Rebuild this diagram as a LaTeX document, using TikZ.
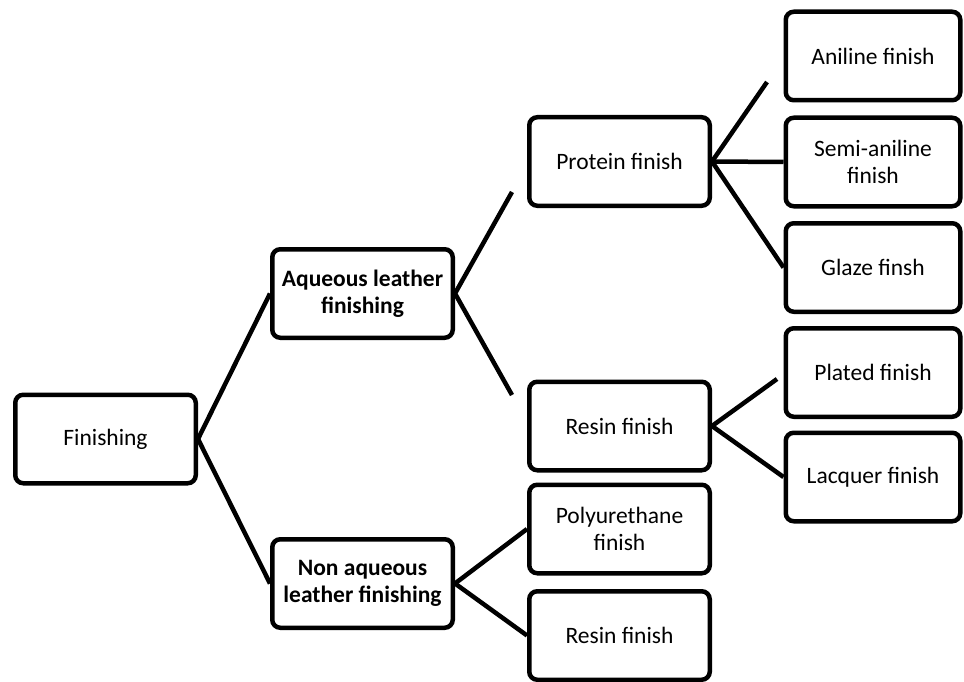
\documentclass[tikz,border=0pt]{standalone}
\usepackage{fontspec}
\setmainfont{Carlito}
\begin{document}
\begin{tikzpicture}[x=1pt,y=-1pt,
  box/.style={draw=black,line width=4.5pt,rounded corners=8pt,inner sep=0pt,
    minimum width=180.5pt,minimum height=88.5pt,align=center,
    font=\fontsize{23.5}{27}\selectfont},
  rbox/.style={box,minimum width=174.5pt},
  bbox/.style={box,font=\fontsize{23.5}{27}\selectfont\bfseries},
  conn/.style={line width=4.5pt,draw=black}]
\useasboundingbox (0,0) rectangle (964,682);
\node[box]  (fin)   at (105.5,439)   {Finishing};
\node[bbox] (aq)    at (362.5,293.5) {Aqueous leather\\finishing};
\node[bbox] (naq)   at (362.5,583.5) {Non aqueous\\leather finishing};
\node[box]  (prot)  at (619.5,161.5) {Protein finish};
\node[box]  (res1)  at (619.5,426)   {Resin finish};
\node[box]  (poly)  at (619.5,529)   {Polyurethane\\finish};
\node[box]  (res2)  at (619.5,635.5) {Resin finish};
\node[rbox] (anil)  at (873,56)      {Aniline finish};
\node[rbox] (semi)  at (873,162)     {Semi-aniline\\finish};
\node[rbox] (glaze) at (873,267.5)   {Glaze finsh};
\node[rbox] (plat)  at (873,372.5)   {Plated finish};
\node[rbox] (lacq)  at (873,477)     {Lacquer finish};
\coordinate (pa) at (512,192);
\coordinate (pr) at (512,395);
\coordinate (pan) at (767,82);
\coordinate (pp) at (777,379);
\draw[conn] (fin.east) -- (aq.west);
\draw[conn] (fin.east) -- (naq.west);
\draw[conn] (aq.east) -- (pa);
\draw[conn] (aq.east) -- (pr);
\draw[conn] (prot.east) -- (pan);
\draw[conn] (prot.east) -- (semi.west);
\draw[conn] (prot.east) -- (glaze.west);
\draw[conn] (res1.east) -- (pp);
\draw[conn] (res1.east) -- (lacq.west);
\draw[conn] (naq.east) -- (poly.west);
\draw[conn] (naq.east) -- (res2.west);
\end{tikzpicture}
\end{document}
